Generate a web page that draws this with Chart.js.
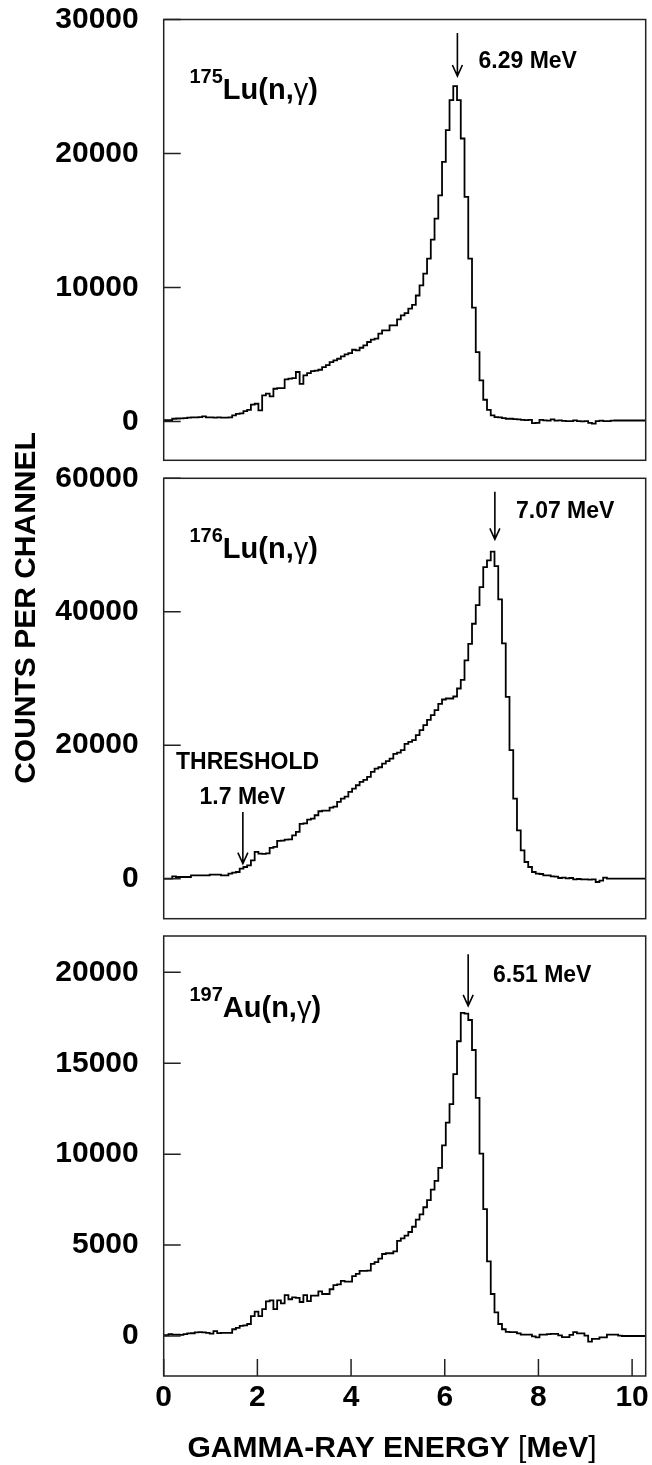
<!DOCTYPE html>
<html lang="en">
<head>
<meta charset="UTF-8">
<title>Gamma-ray spectra: 175Lu, 176Lu, 197Au (n,gamma)</title>
<script src="https://cdn.jsdelivr.net/npm/chart.js"></script>
<style>
  body { margin: 0; background: #fff; }
  #wrap { position: relative; width: 652px; height: 1465px; }
  #wrap canvas { position: absolute; left: 0; top: 0; }
</style>
</head>
<body>
<div id="wrap">
  <canvas id="lu175" width="652" height="1465"></canvas>
  <canvas id="lu176" width="652" height="1465"></canvas>
  <canvas id="au197" width="652" height="1465"></canvas>
</div>
<script>
// channel calibration (MeV)
const binStart = 0.022;
const binWidth = 0.08;

// counts per channel
const lu175Counts = [100, 100, 200, 220, 230, 250, 280, 300, 300, 320,
  380, 300, 300, 290, 300, 290, 280, 300, 450, 570,
  600, 770, 870, 1250, 1320, 820, 1940, 2070, 1870, 2440,
  2490, 2490, 3140, 3200, 3240, 3690, 2810, 3440, 3610, 3760,
  3800, 3860, 4060, 4200, 4430, 4560, 4680, 4860, 5000, 5100,
  5350, 5300, 5500, 5680, 5930, 6100, 6180, 6550, 6800, 6800,
  7170, 7170, 7620, 7920, 8090, 8420, 8700, 9400, 10160, 11030,
  12150, 13570, 15140, 16880, 19370, 21740, 23980, 25030, 23980, 21120,
  16760, 12150, 8490, 5180, 3060, 1620, 870, 450, 320, 300,
  250, 200, 200, 180, 150, 120, 100, 120, -120, -100,
  120, 80, 60, 150, 60, 80, 50, 20, 30, 80,
  20, 10, 20, -100, -170, 30, 60, 30, 20, 60,
  70, 70, 70, 70, 70, 70, 70, 70, 70];

const lu176Counts = [0, 0, 350, 250, 250, 250, 250, 500, 500, 500,
  500, 500, 600, 600, 600, 500, 500, 750, 900, 1000,
  1500, 1750, 2000, 2750, 4000, 3750, 3700, 3800, 4600, 4750,
  5650, 5700, 5850, 5900, 6500, 7000, 8200, 8300, 8850, 9000,
  9500, 10100, 10200, 10200, 10650, 10800, 11500, 12000, 12300, 13000,
  13500, 14000, 14500, 14800, 15250, 16000, 16500, 16700, 17250, 17600,
  18000, 18700, 18900, 19250, 20200, 20500, 20750, 21500, 22250, 23000,
  23800, 24500, 25250, 26200, 26850, 27000, 27000, 27300, 28500, 29800,
  32700, 35200, 38200, 41000, 43700, 46700, 47700, 49000, 46850, 41850,
  35250, 27250, 19250, 12000, 7250, 4250, 2500, 1750, 1000, 750,
  700, 500, 500, 350, 300, 100, 150, 50, 100, -100,
  -50, -100, -100, -150, -100, -500, -300, 150, 0, 0,
  0, 0, 0, 0, 0, 0, 0, 0, 0];

const au197Counts = [40, 100, 80, 80, 60, 100, 140, 150, 200, 210,
  200, 175, 130, 270, 160, 175, 175, 170, 370, 450,
  560, 580, 660, 1090, 1340, 1090, 1480, 1900, 1960, 1480,
  1960, 1790, 2250, 2020, 2120, 2100, 1870, 2250, 1920, 2220,
  2220, 2450, 2310, 2310, 2570, 2800, 2840, 3030, 2990, 2990,
  3290, 3420, 3580, 3580, 3600, 3970, 4060, 4260, 4510, 4550,
  4550, 4650, 5230, 5370, 5520, 5720, 6010, 6400, 6690, 7080,
  7470, 8050, 8530, 9250, 10480, 11740, 12750, 14400, 16210, 17770,
  17730, 17380, 15730, 13100, 10030, 6980, 4100, 2310, 1300, 660,
  370, 230, 210, 210, 140, 80, 80, 80, -20, -80,
  80, 80, 100, 120, 120, 30, -60, -60, 60, 210,
  140, 140, 20, -310, -160, -160, -80, -80, 80, 80,
  80, 20, 0, 0, 0, 0, 0, 0, 0];

// tick labels
const energyTicks = [0, 2, 4, 6, 8, 10];
const lu175Ticks = [0, 10000, 20000, 30000];
const lu176Ticks = [0, 20000, 40000, 60000];
const au197Ticks = [0, 5000, 10000, 15000, 20000];

const FAMILY = "'Liberation Sans', Arial, sans-serif";
const PAGE_H = 1465;

function histogram(counts) {
  const pts = counts.map((c, k) => ({ x: k === 0 ? 0 : binStart + k * binWidth, y: c }));
  pts.push({ x: binStart + counts.length * binWidth, y: counts[counts.length - 1] });
  return pts;
}

function drawRuns(ctx, x, y, runs, align) {
  let total = 0;
  runs.forEach(r => {
    ctx.font = (r.weight || 'bold') + ' ' + r.size + 'px ' + FAMILY;
    r.w = ctx.measureText(r.text).width;
    total += r.w;
  });
  let cx = align === 'center' ? x - total / 2 : x;
  runs.forEach(r => {
    ctx.font = (r.weight || 'bold') + ' ' + r.size + 'px ' + FAMILY;
    ctx.fillText(r.text, cx, y - (r.rise || 0));
    cx += r.w;
  });
}

function isotope(mass, el) {
  return [
    { text: mass, size: 20, rise: 16 },
    { text: el + '(n,', size: 29 },
    { text: 'γ', size: 29, weight: 'normal' },
    { text: ')', size: 29 }
  ];
}

// no extra room for labels overhanging the frame
function noOverhang(s) {
  s.paddingTop = 0;
  s.paddingBottom = 0;
  s.paddingLeft = 0;
  s.paddingRight = 0;
}

const decor = {
  id: 'decor',
  afterDatasetsDraw(chart, args, opts) {
    const { ctx, chartArea: a, scales: { x, y } } = chart;
    ctx.save();
    ctx.fillStyle = '#000';
    ctx.strokeStyle = '#222';
    ctx.lineWidth = 1.5;
    ctx.strokeRect(a.left, a.top, a.right - a.left, a.bottom - a.top);

    // inner tick marks
    ctx.beginPath();
    opts.yTicks.forEach(v => {
      const py = y.getPixelForValue(v);
      ctx.moveTo(a.left, py);
      ctx.lineTo(a.left + 17, py);
    });
    if (opts.xTicks) {
      opts.xTicks.forEach(v => {
        const px = x.getPixelForValue(v);
        ctx.moveTo(px, a.bottom);
        ctx.lineTo(px, a.bottom - 17);
      });
    }
    ctx.stroke();

    // arrows
    ctx.strokeStyle = '#000';
    ctx.lineWidth = 1.6;
    opts.arrows.forEach(ar => {
      const px = x.getPixelForValue(ar.x);
      const y0 = y.getPixelForValue(ar.from);
      const y1 = y.getPixelForValue(ar.to);
      ctx.beginPath();
      ctx.moveTo(px, y0);
      ctx.lineTo(px, y1);
      ctx.moveTo(px - 5, y1 - 11);
      ctx.lineTo(px, y1);
      ctx.lineTo(px + 5, y1 - 11);
      ctx.stroke();
    });

    // labels
    opts.texts.forEach(t => {
      ctx.textBaseline = t.baseline || 'middle';
      drawRuns(ctx, x.getPixelForValue(t.x), y.getPixelForValue(t.y), t.runs, t.align);
    });

    // page titles (bottom panel only)
    if (opts.pageTitles) {
      ctx.textBaseline = 'alphabetic';
      drawRuns(ctx, 392, 1457, [
        { text: 'GAMMA-RAY ENERGY ', size: 30 },
        { text: '[', size: 30, weight: 'normal' },
        { text: 'MeV', size: 30 },
        { text: ']', size: 30, weight: 'normal' }
      ], 'center');
      ctx.translate(35, 608);
      ctx.rotate(-Math.PI / 2);
      drawRuns(ctx, 0, 0, [{ text: 'COUNTS PER CHANNEL', size: 30 }], 'center');
    }
    ctx.restore();
  }
};

function makePanel(id, counts, yMin, yMax, yTicks, top, bottom, decorOpts, showX) {
  new Chart(document.getElementById(id), {
    type: 'line',
    data: {
      datasets: [{
        data: histogram(counts),
        stepped: 'before',
        borderColor: '#000',
        borderWidth: 1.8,
        pointRadius: 0,
        fill: false
      }]
    },
    options: {
      responsive: false,
      animation: false,
      events: [],
      layout: { padding: { top: top, bottom: showX ? 0 : PAGE_H - bottom, left: 0, right: 6.3 } },
      plugins: { legend: { display: false }, tooltip: { enabled: false }, decor: decorOpts },
      scales: {
        x: {
          type: 'linear', min: 0, max: 10.29,
          display: showX,
          grid: { display: false, drawTicks: false },
          border: { display: false },
          afterBuildTicks: s => { s.ticks = energyTicks.map(v => ({ value: v })); },
          afterFit: s => { noOverhang(s); if (showX) s.height = PAGE_H - bottom; },
          ticks: {
            color: '#000', padding: 4, maxRotation: 0, autoSkip: false,
            font: { family: FAMILY, size: 30, weight: 'bold' },
            callback: v => String(v)
          }
        },
        y: {
          type: 'linear', min: yMin, max: yMax,
          grid: { display: false, drawTicks: false },
          border: { display: false },
          afterBuildTicks: s => { s.ticks = yTicks.map(v => ({ value: v })); },
          afterFit: s => { noOverhang(s); s.width = 163.7; },
          ticks: {
            color: '#000', padding: 25,
            font: { family: FAMILY, size: 30, weight: 'bold' },
            callback: v => String(v)
          }
        }
      }
    },
    plugins: [decor]
  });
}

makePanel('lu175', lu175Counts, -2900, 30000, lu175Ticks, 19.5, 460.3, {
  yTicks: lu175Ticks,
  arrows: [{ x: 6.27, from: 29000, to: 25780 }],
  texts: [
    { x: 6.72, y: 26830, runs: [{ text: '6.29 MeV', size: 23 }] },
    { x: 0.55, y: 24060, baseline: 'alphabetic', runs: isotope('175', 'Lu') }
  ]
}, false);

makePanel('lu176', lu176Counts, -6000, 60000, lu176Ticks, 478.3, 918.7, {
  yTicks: lu176Ticks,
  arrows: [{ x: 7.07, from: 58000, to: 50850 }, { x: 1.69, from: 9990, to: 2250 }],
  texts: [
    { x: 7.52, y: 54945, runs: [{ text: '7.07 MeV', size: 23 }] },
    { x: 1.79, y: 17445, align: 'center', runs: [{ text: 'THRESHOLD', size: 23 }] },
    { x: 1.68, y: 12195, align: 'center', runs: [{ text: '1.7 MeV', size: 23 }] },
    { x: 0.55, y: 48100, baseline: 'alphabetic', runs: isotope('176', 'Lu') }
  ]
}, false);

makePanel('au197', au197Counts, -2200, 22000, au197Ticks, 936, 1376, {
  yTicks: au197Ticks,
  xTicks: energyTicks,
  pageTitles: true,
  arrows: [{ x: 6.50, from: 20990, to: 18160 }],
  texts: [
    { x: 7.03, y: 19840, runs: [{ text: '6.51 MeV', size: 23 }] },
    { x: 0.55, y: 17530, baseline: 'alphabetic', runs: isotope('197', 'Au') }
  ]
}, true);
</script>
</body>
</html>
